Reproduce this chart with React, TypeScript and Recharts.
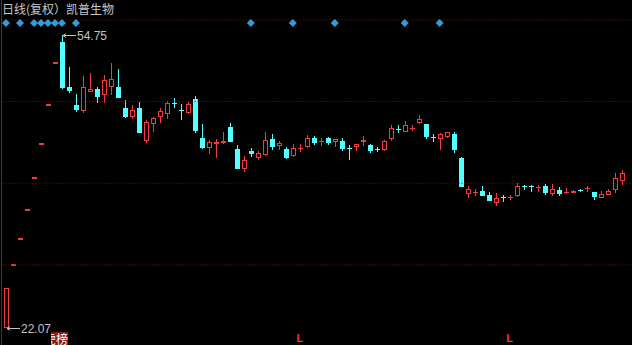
import React from 'react';
import { ComposedChart, Bar, Scatter, XAxis, YAxis, ReferenceLine, ReferenceDot } from 'recharts';

// daily OHLC, index = trading day
const opens = [
  22.07, 29.13, 32.04, 35.24, 38.76, 42.64, 46.9, 51.59, 54.0, 48.95,
  46.94, 46.27, 48.39, 48.73, 48.06, 48.95, 48.95, 46.61, 45.6, 46.61,
  42.93, 44.82, 45.6, 45.94, 47.2, 46.35, 46.05, 47.61, 43.26, 42.11,
  42.55, 42.67, 44.49, 42.04, 39.85, 41.85, 41.06, 41.37, 43.15, 42.32,
  42.04, 41.25, 42.13, 42.26, 43.26, 42.9, 43.26, 42.82, 42.93, 42.17,
  42.26, 42.87, 42.48, 42.06, 41.92, 43.15, 44.29, 43.93, 44.38, 44.94,
  44.82, 43.4, 43.15, 43.37, 43.71, 41.03, 37.02, 37.22, 37.35, 36.9,
  36.01, 36.7, 36.66, 36.79, 37.93, 37.93, 37.78, 37.91, 37.02, 37.46,
  37.22, 37.13, 37.48, 37.67, 37.24, 36.57, 36.9, 37.46, 38.47,
];
const highs = [
  26.48, 29.13, 32.04, 35.24, 38.76, 42.64, 46.9, 51.59, 54.75, 51.18,
  48.17, 50.18, 50.51, 48.95, 50.29, 51.63, 50.96, 47.5, 46.94, 47.28,
  45.27, 45.6, 46.61, 47.39, 47.72, 47.05, 47.28, 47.95, 44.82, 43.04,
  43.15, 43.93, 44.94, 42.43, 41.25, 42.15, 41.85, 43.9, 43.71, 42.93,
  42.26, 42.59, 42.59, 43.6, 43.49, 43.26, 43.37, 43.15, 43.26, 42.48,
  42.59, 43.49, 42.59, 42.26, 43.04, 44.71, 44.71, 45.16, 44.71, 45.83,
  44.82, 43.71, 43.82, 43.97, 43.93, 41.14, 37.91, 37.57, 37.91, 37.24,
  37.13, 36.9, 36.9, 38.24, 38.02, 38.02, 38.02, 38.13, 38.13, 37.8,
  37.69, 37.46, 37.57, 37.91, 37.24, 37.35, 37.57, 39.36, 39.69,
];
const lows = [
  22.07, 29.13, 32.04, 35.24, 38.76, 42.64, 46.9, 51.59, 48.7, 48.28,
  46.16, 46.05, 48.39, 47.17, 47.17, 48.06, 47.67, 45.49, 45.38, 43.82,
  42.7, 43.93, 44.94, 45.38, 46.61, 45.27, 45.94, 43.82, 42.04, 41.48,
  41.03, 42.59, 42.82, 39.78, 39.5, 41.18, 40.81, 41.3, 41.92, 41.92,
  40.92, 41.14, 41.7, 42.15, 42.48, 42.37, 42.48, 42.26, 41.81, 40.81,
  41.81, 42.37, 41.59, 41.7, 41.81, 42.93, 43.82, 43.93, 44.04, 44.82,
  43.15, 42.82, 41.92, 43.3, 41.59, 37.8, 36.57, 36.79, 36.75, 36.2,
  35.68, 36.12, 36.35, 36.68, 37.46, 37.24, 37.24, 36.9, 36.79, 36.79,
  37.02, 37.13, 37.24, 37.24, 36.35, 36.57, 36.9, 37.13, 38.02,
];
const closes = [
  26.48, 29.13, 32.04, 35.24, 38.76, 42.64, 46.9, 51.59, 48.84, 48.5,
  46.39, 48.95, 48.73, 47.84, 49.73, 49.84, 47.72, 45.6, 46.39, 43.82,
  45.05, 45.49, 46.27, 47.17, 47.15, 46.28, 47.05, 44.08, 42.15, 42.85,
  42.85, 42.96, 42.87, 39.8, 40.81, 41.44, 41.62, 43.04, 42.26, 42.7,
  41.03, 42.15, 42.17, 43.26, 42.7, 42.95, 42.7, 43.15, 42.04, 42.12,
  42.59, 43.04, 41.81, 42.02, 42.93, 44.38, 44.25, 44.71, 44.42, 45.33,
  43.37, 43.36, 43.71, 43.93, 41.92, 37.8, 37.57, 37.26, 36.79, 36.24,
  36.57, 36.66, 36.7, 37.91, 37.89, 37.89, 37.82, 37.13, 37.57, 37.02,
  37.26, 37.35, 37.44, 37.71, 36.68, 37.02, 37.35, 38.8, 39.36,
];

const markerDays = [0, 2, 4, 5, 6, 7, 8, 10, 35, 41, 47, 57, 62];
const flagDays = [42, 72];
const gridPrices = [56.42, 47.32, 38.22, 29.1];
const maxPrice = { day: 8, value: 54.75 };
const minPrice = { day: 0, value: 22.07 };

const RED = '#f03c3c';
const CYAN = '#54ffff';
const GRID = '#8a1010';

const data = opens.map((o, i) => ({ i, open: o, high: highs[i], low: lows[i], close: closes[i] }));
const markers = markerDays.map((i) => ({ i, y: 56.09 }));
const flags = flagDays.map((i) => ({ i, y: 20.9 }));

function Candle(props: any) {
  const { x, y, width, height, payload } = props;
  const { open, close, high, low } = payload;
  const c = Math.round(x + width / 2);
  const left = c - 2;
  const wx = c + 0.5;
  if (high === low) {
    return <rect x={left} y={Math.round(y) - 1} width={5} height={2} fill={RED} />;
  }
  const k = height / (high - low);
  const py = (p: number) => y + (high - p) * k;
  const up = close > open;
  const color = up ? RED : CYAN;
  const top = Math.round(py(Math.max(open, close)));
  const bot = Math.round(py(Math.min(open, close)));
  const yh = Math.round(py(high));
  const yl = Math.round(py(low));
  if (bot - top < 2) {
    return (
      <g>
        <line x1={wx} x2={wx} y1={yh} y2={yl} stroke={color} />
        <line x1={left} x2={left + 5} y1={top + 0.5} y2={top + 0.5} stroke={color} />
      </g>
    );
  }
  if (up) {
    return (
      <g>
        {yh < top && <line x1={wx} x2={wx} y1={yh} y2={top} stroke={color} />}
        {yl > bot && <line x1={wx} x2={wx} y1={bot} y2={yl} stroke={color} />}
        <rect x={left + 0.5} y={top + 0.5} width={4} height={bot - top - 1} fill="#000" stroke={color} />
      </g>
    );
  }
  return (
    <g>
      <line x1={wx} x2={wx} y1={yh} y2={yl} stroke={color} />
      <rect x={left} y={top} width={5} height={bot - top} fill={color} />
    </g>
  );
}

function Diamond(props: any) {
  const { cx, cy } = props;
  const r = 4;
  return <polygon points={`${cx},${cy - r} ${cx + r},${cy} ${cx},${cy + r} ${cx - r},${cy}`} fill="#2f9ed8" />;
}

function Flag(props: any) {
  const { cx, cy } = props;
  return (
    <text x={cx} y={cy + 4} textAnchor="middle" fill="#ff3030" fontSize={11} fontWeight="bold" fontFamily="Liberation Sans, Arial">
      L
    </text>
  );
}

function priceTag(text: string) {
  return (props: any) => {
    const { cx, cy } = props;
    const x0 = Math.round(cx) + 1;
    const y0 = Math.round(cy) + 0.5;
    return (
      <g>
        <path d={`M${x0} ${y0} H${x0 + 13} M${x0} ${y0} L${x0 + 3} ${y0 - 2} M${x0} ${y0} L${x0 + 3} ${y0 + 2}`} stroke="#c0c0c0" fill="none" />
        <text x={x0 + 14} y={y0 + 4.5} fill="#c0c0c0" fontSize={12} fontFamily="Liberation Sans, Arial">
          {text}
        </text>
      </g>
    );
  };
}

export default function App() {
  return (
    <div style={{ position: 'fixed', left: 0, top: 0, width: 632, height: 345, background: '#000', overflow: 'hidden' }}>
      <ComposedChart width={632} height={345} data={data} margin={{ top: 0, right: 0, bottom: 0, left: 2.5 }}>
        <XAxis dataKey="i" type="number" domain={[-0.5, 89.5]} hide />
        <YAxis type="number" domain={[20.174, 58.654]} hide allowDataOverflow />
        {gridPrices.map((p) => (
          <ReferenceLine key={p} y={p} stroke={GRID} strokeDasharray="1 2" />
        ))}
        <Bar dataKey={(d: any) => [d.low, d.high]} barSize={5} shape={Candle} isAnimationActive={false} />
        <Scatter data={markers} dataKey="y" shape={Diamond} isAnimationActive={false} />
        <Scatter data={flags} dataKey="y" shape={Flag} isAnimationActive={false} />
        <ReferenceDot x={maxPrice.day} y={maxPrice.value} r={0} shape={priceTag(maxPrice.value.toFixed(2))} />
        <ReferenceDot x={minPrice.day} y={minPrice.value} r={0} shape={priceTag(minPrice.value.toFixed(2))} />
      </ComposedChart>
      <div style={{ position: 'absolute', left: 1, top: 0, width: 1, height: 345, background: '#a01010' }} />
      <div
        style={{
          position: 'absolute', left: 2, top: 0, fontSize: 12, lineHeight: '17px', color: '#c8c8c8',
          fontFamily: '"Noto Sans CJK SC", sans-serif', whiteSpace: 'nowrap',
        }}
      >
        日线(复权）凯普生物
      </div>
      <div style={{ position: 'absolute', left: 51, top: 332, width: 17, height: 13, background: '#8a1414', overflow: 'hidden' }}>
        <span
          style={{
            position: 'absolute', right: 0, top: -2, fontSize: 12, lineHeight: '17px', color: '#fff',
            fontFamily: '"Noto Sans CJK SC", sans-serif', whiteSpace: 'nowrap',
          }}
        >
          虎榜
        </span>
      </div>
    </div>
  );
}
